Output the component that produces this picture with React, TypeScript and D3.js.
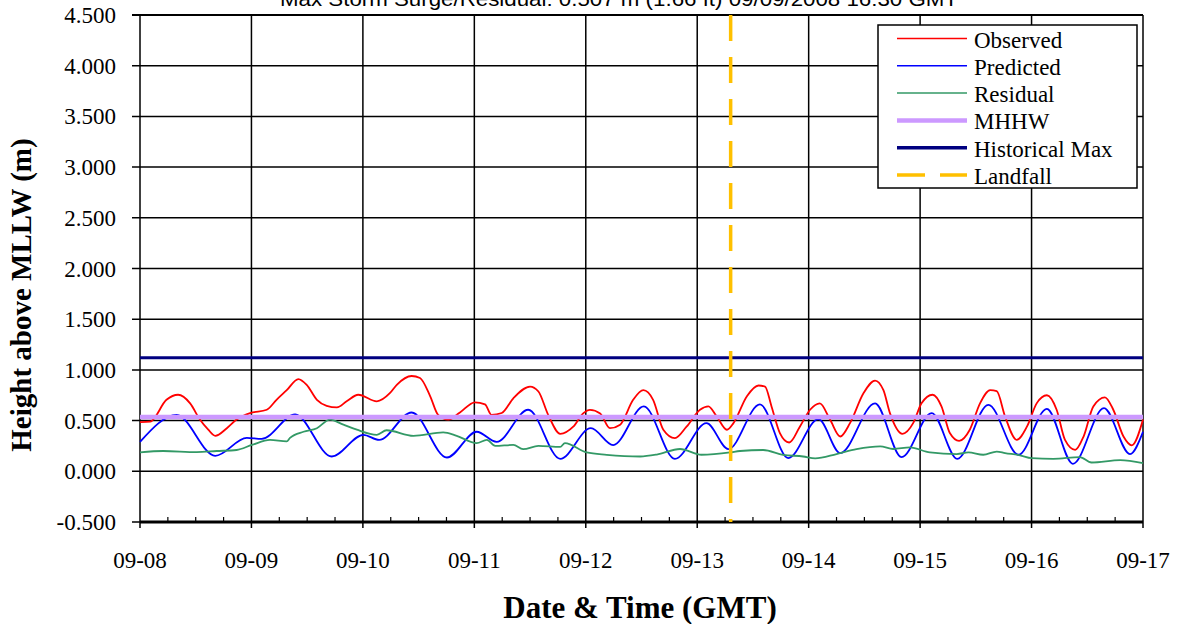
import React from "react";
import * as d3 from "d3";

// ---- data (hours since 09-08 00:00 GMT, metres above MLLW) ----
const dayLabels = ["09-08", "09-09", "09-10", "09-11", "09-12", "09-13", "09-14", "09-15", "09-16", "09-17"];
const yTicks = [-0.5, 0, 0.5, 1, 1.5, 2, 2.5, 3, 3.5, 4, 4.5];

const predicted: [number, number][] = [
  [0, 0.29], [7.9, 0.555], [16.2, 0.153], [23.0, 0.33], [26.2, 0.32], [33.4, 0.56], [41.3, 0.146],
  [48.1, 0.36], [51.5, 0.31], [58.5, 0.58], [66.1, 0.136], [72.5, 0.39], [76.8, 0.29], [83.6, 0.607],
  [90.5, 0.123], [97.1, 0.425], [101.9, 0.258], [108.5, 0.64], [115.2, 0.123], [122.0, 0.475],
  [126.7, 0.219], [133.5, 0.66], [139.6, 0.13], [146.1, 0.515], [150.8, 0.18], [158.3, 0.67],
  [164.0, 0.14], [170.5, 0.574], [176.0, 0.123], [182.7, 0.656], [189.2, 0.163], [195.3, 0.616],
  [200.9, 0.074], [207.6, 0.623], [213.2, 0.17], [216, 0.39],
];

const observed: [number, number][] = [
  [0, 0.485], [2.2, 0.49], [5.7, 0.705], [8.2, 0.755], [10.8, 0.67], [12.9, 0.51], [14.7, 0.41],
  [16.2, 0.35], [18.7, 0.425], [20.8, 0.51], [23.7, 0.574], [27.3, 0.607], [29.4, 0.705], [31.6, 0.80],
  [34.1, 0.91], [35.9, 0.853], [38.1, 0.705], [40.2, 0.646], [42.4, 0.63], [44.5, 0.69], [47.0, 0.755],
  [51.0, 0.69], [53.8, 0.77], [55.3, 0.853], [58.5, 0.94], [60.3, 0.92], [62.5, 0.74], [64.2, 0.557],
  [66.4, 0.51], [68.9, 0.58], [72.1, 0.68], [74.3, 0.66], [75.7, 0.557], [77.9, 0.575], [80.4, 0.72],
  [84.0, 0.836], [85.8, 0.787], [87.9, 0.557], [90.5, 0.37], [93.3, 0.44], [95.5, 0.574], [96.9, 0.606],
  [99.1, 0.57], [101.2, 0.425], [103.4, 0.46], [106.2, 0.705], [108.4, 0.80], [110.5, 0.705],
  [112.7, 0.41], [115.2, 0.327], [117.7, 0.44], [120.6, 0.607], [122.4, 0.64], [124.2, 0.54],
  [126.4, 0.41], [127.8, 0.475], [130.7, 0.74], [133.2, 0.846], [134.6, 0.836], [136.0, 0.64],
  [137.8, 0.377], [139.8, 0.284], [142.1, 0.44], [144.3, 0.607], [146.4, 0.67], [148.6, 0.51],
  [150.8, 0.343], [152.9, 0.475], [155.8, 0.77], [158.3, 0.895], [160.1, 0.80], [161.5, 0.574],
  [164.2, 0.37], [166.5, 0.475], [168.3, 0.67], [170.7, 0.755], [172.6, 0.64], [174.4, 0.377],
  [176.4, 0.30], [178.7, 0.41], [180.9, 0.67], [183.1, 0.80], [184.5, 0.79], [186.3, 0.54],
  [188.8, 0.31], [191.0, 0.44], [193.1, 0.67], [195.3, 0.75], [197.4, 0.607], [199.2, 0.31],
  [201.4, 0.212], [203.2, 0.343], [205.3, 0.64], [207.8, 0.73], [209.6, 0.607], [211.8, 0.343],
  [213.6, 0.256], [216, 0.51],
];

const residual: [number, number][] = [
  [0, 0.186], [5.0, 0.20], [12.2, 0.19], [16.5, 0.20], [20.8, 0.21], [24.1, 0.26], [28.0, 0.31],
  [31.6, 0.295], [32.3, 0.33], [35.2, 0.39], [38.1, 0.425], [40.9, 0.51], [43.8, 0.46], [46.7, 0.41],
  [51.0, 0.36], [53.1, 0.405], [58.9, 0.35], [65.3, 0.383], [68.2, 0.35], [72.5, 0.278], [74.7, 0.31],
  [76.5, 0.25], [80.4, 0.26], [82.5, 0.218], [85.8, 0.25], [90.5, 0.24], [91.5, 0.278], [96.2, 0.186],
  [100.5, 0.163], [107.7, 0.146], [111.3, 0.165], [116.3, 0.22], [120.9, 0.163], [127.1, 0.186],
  [129.2, 0.2], [134.2, 0.21], [138.5, 0.163], [142.8, 0.146], [145.4, 0.127], [150.0, 0.17],
  [154.3, 0.218], [159.4, 0.245], [162.2, 0.22], [165.8, 0.235], [170.1, 0.186], [175.9, 0.17],
  [178.4, 0.186], [181.6, 0.163], [184.5, 0.195], [186.3, 0.18], [189.5, 0.158], [192.0, 0.13],
  [196.7, 0.123], [202.4, 0.14], [204.9, 0.087], [211.1, 0.11], [216, 0.08],
];

const mhhw = 0.535;
const historicalMax = 1.12;
const landfallHour = 127.2;

const legendItems = [
  { label: "Observed", color: "#FF0000", width: 1.5, dash: "" },
  { label: "Predicted", color: "#0000FF", width: 1.5, dash: "" },
  { label: "Residual", color: "#339966", width: 1.5, dash: "" },
  { label: "MHHW", color: "#CC99FF", width: 4.5, dash: "" },
  { label: "Historical Max", color: "#000080", width: 3.5, dash: "" },
  { label: "Landfall", color: "#FFC000", width: 3.5, dash: "28 15" },
];

export default function App() {
  const W = 1179, H = 624;
  const x = d3.scaleLinear().domain([0, 216]).range([140, 1143]);
  const y = d3.scaleLinear().domain([-0.5, 4.5]).range([522, 15]);
  const line = d3
    .line<[number, number]>()
    .x((d) => x(d[0]))
    .y((d) => y(d[1]))
    .curve(d3.curveMonotoneX);

  const dayHours = dayLabels.map((_, i) => i * 24);
  const minorHours = d3.range(0, 217, 6).filter((h) => h % 24 !== 0);
  const serif = "'Liberation Serif', 'Times New Roman', serif";

  const lx0 = 897, lx1 = 967, ly0 = 38.5, lstep = 27.3;

  return (
    <svg width={W} height={H} style={{ position: "absolute", left: 0, top: 0, background: "#fff" }}>
      <rect x={0} y={0} width={W} height={H} fill="#fff" />
      {/* title (partly cut off at top) */}
      <text
        x={619}
        y={6}
        textAnchor="middle"
        fontFamily="'Liberation Sans', Arial, sans-serif"
        fontSize={20}
        textLength={678}
        lengthAdjust="spacingAndGlyphs"
      >
        Max Storm Surge/Residual: 0.507 m (1.66 ft) 09/09/2008 16:30 GMT
      </text>

      {/* horizontal gridlines */}
      {yTicks.map((t) => (
        <line key={"hg" + t} x1={132} x2={1143} y1={y(t)} y2={y(t)} stroke="#000" strokeWidth={t === 4.5 ? 2 : 1.5} />
      ))}
      {/* vertical gridlines */}
      {dayHours.map((h) => (
        <line key={"vg" + h} x1={x(h)} x2={x(h)} y1={y(4.5)} y2={528} stroke="#000" strokeWidth={1.5} />
      ))}
      {/* minor ticks */}
      {minorHours.map((h) => (
        <line key={"mt" + h} x1={x(h)} x2={x(h)} y1={517} y2={522} stroke="#000" strokeWidth={1.2} />
      ))}
      {/* bottom axis */}
      <line x1={140} x2={1143} y1={522} y2={522} stroke="#000" strokeWidth={3} />

      {/* series */}
      <path d={line(observed) || ""} fill="none" stroke="#FF0000" strokeWidth={1.8} />
      <path d={line(predicted) || ""} fill="none" stroke="#0000FF" strokeWidth={1.8} />
      <path d={line(residual) || ""} fill="none" stroke="#339966" strokeWidth={1.8} />
      <line x1={x(0)} x2={x(216)} y1={y(mhhw)} y2={y(mhhw)} stroke="#CC99FF" strokeWidth={4.5} />
      <line x1={x(0)} x2={x(216)} y1={y(historicalMax)} y2={y(historicalMax)} stroke="#000080" strokeWidth={3} />
      <line
        x1={x(landfallHour)}
        x2={x(landfallHour)}
        y1={y(4.5)}
        y2={y(-0.5)}
        stroke="#FFC000"
        strokeWidth={3.5}
        strokeDasharray="26 16"
      />

      {/* y tick labels */}
      {yTicks.map((t) => (
        <text key={"yl" + t} x={116} y={y(t) + 8} textAnchor="end" fontFamily={serif} fontSize={23}>
          {t.toFixed(3)}
        </text>
      ))}
      {/* x tick labels */}
      {dayLabels.map((l, i) => (
        <text key={l} x={x(dayHours[i])} y={568} textAnchor="middle" fontFamily={serif} fontSize={23}>
          {l}
        </text>
      ))}

      {/* axis titles */}
      <text x={640} y={618} textAnchor="middle" fontFamily={serif} fontSize={31} fontWeight="bold">
        Date &amp; Time (GMT)
      </text>
      <text
        transform="translate(31,295) rotate(-90)"
        textAnchor="middle"
        fontFamily={serif}
        fontSize={29}
        fontWeight="bold"
      >
        Height above MLLW (m)
      </text>

      {/* legend */}
      <rect x={878} y={25} width={259} height={163} fill="#fff" stroke="#000" strokeWidth={1.5} />
      {legendItems.map((it, i) => {
        const yy = ly0 + i * lstep;
        return (
          <g key={it.label}>
            <line
              x1={lx0}
              x2={lx1}
              y1={yy}
              y2={yy}
              stroke={it.color}
              strokeWidth={it.width}
              strokeDasharray={it.dash || undefined}
            />
            <text x={974} y={yy + 9} fontFamily={serif} fontSize={23}>
              {it.label}
            </text>
          </g>
        );
      })}
    </svg>
  );
}
